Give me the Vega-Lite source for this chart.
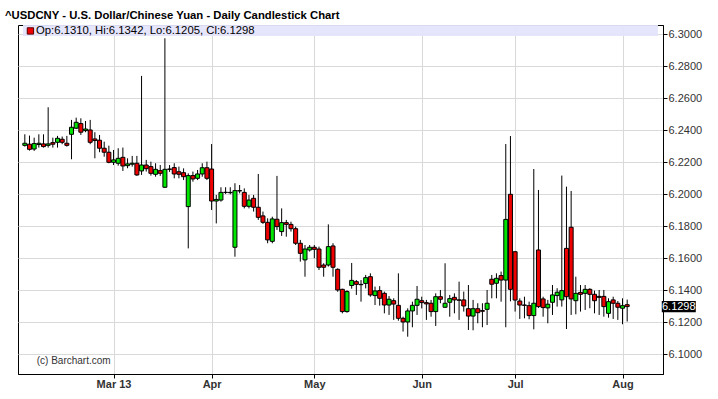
{
  "$schema": "https://vega.github.io/schema/vega-lite/v6.json",
  "width": 645,
  "height": 349,
  "autosize": {"type": "none"},
  "padding": {"left": 18, "top": 25, "right": 55, "bottom": 25},
  "background": "white",
  "title": {"text": "^USDCNY - U.S. Dollar/Chinese Yuan - Daily Candlestick Chart", "anchor": "start", "frame": "group", "dx": -13, "offset": -5, "baseline": "alphabetic", "font": "Liberation Sans", "fontSize": 11.3, "fontWeight": "bold", "color": "#000000"},
  "config": {"view": {"stroke": "#000000", "strokeWidth": 1}},
  "datasets": {
    "bars": [
      {"i":1,"d":"2013-02-04","o":6.2306,"h":6.2375,"l":6.2298,"c":6.2319},
      {"i":2,"d":"2013-02-05","o":6.2313,"h":6.2367,"l":6.2273,"c":6.2281},
      {"i":3,"d":"2013-02-06","o":6.2283,"h":6.2354,"l":6.2271,"c":6.2317},
      {"i":4,"d":"2013-02-07","o":6.2311,"h":6.2375,"l":6.2292,"c":6.2319},
      {"i":5,"d":"2013-02-08","o":6.2315,"h":6.2375,"l":6.2292,"c":6.2298},
      {"i":6,"d":"2013-02-11","o":6.2306,"h":6.2544,"l":6.2292,"c":6.2315},
      {"i":7,"d":"2013-02-12","o":6.2323,"h":6.2354,"l":6.2292,"c":6.2313},
      {"i":8,"d":"2013-02-13","o":6.2325,"h":6.2365,"l":6.2292,"c":6.2350},
      {"i":9,"d":"2013-02-14","o":6.2344,"h":6.2361,"l":6.2313,"c":6.2325},
      {"i":10,"d":"2013-02-15","o":6.2319,"h":6.2365,"l":6.2298,"c":6.2306},
      {"i":11,"d":"2013-02-18","o":6.2375,"h":6.2465,"l":6.2219,"c":6.2419},
      {"i":12,"d":"2013-02-19","o":6.2413,"h":6.2479,"l":6.2408,"c":6.2450},
      {"i":13,"d":"2013-02-20","o":6.2442,"h":6.2475,"l":6.2371,"c":6.2388},
      {"i":14,"d":"2013-02-21","o":6.2398,"h":6.2458,"l":6.2388,"c":6.2408},
      {"i":15,"d":"2013-02-22","o":6.2402,"h":6.2465,"l":6.2313,"c":6.2325},
      {"i":16,"d":"2013-02-25","o":6.2346,"h":6.2388,"l":6.2225,"c":6.2336},
      {"i":17,"d":"2013-02-26","o":6.2338,"h":6.2371,"l":6.2263,"c":6.2288},
      {"i":18,"d":"2013-02-27","o":6.2288,"h":6.2329,"l":6.2235,"c":6.2263},
      {"i":19,"d":"2013-02-28","o":6.2263,"h":6.2304,"l":6.2194,"c":6.2200},
      {"i":20,"d":"2013-03-01","o":6.2200,"h":6.2277,"l":6.2183,"c":6.2215},
      {"i":21,"d":"2013-03-04","o":6.2194,"h":6.2288,"l":6.2179,"c":6.2225},
      {"i":22,"d":"2013-03-05","o":6.2231,"h":6.2292,"l":6.2146,"c":6.2177},
      {"i":23,"d":"2013-03-06","o":6.2179,"h":6.2225,"l":6.2163,"c":6.2190},
      {"i":24,"d":"2013-03-07","o":6.2188,"h":6.2240,"l":6.2173,"c":6.2194},
      {"i":25,"d":"2013-03-08","o":6.2194,"h":6.2240,"l":6.2115,"c":6.2121},
      {"i":26,"d":"2013-03-11","o":6.2146,"h":6.2740,"l":6.2121,"c":6.2183},
      {"i":27,"d":"2013-03-12","o":6.2183,"h":6.2215,"l":6.2142,"c":6.2160},
      {"i":28,"d":"2013-03-13","o":6.2173,"h":6.2204,"l":6.2117,"c":6.2131},
      {"i":29,"d":"2013-03-14","o":6.2125,"h":6.2194,"l":6.2110,"c":6.2156},
      {"i":30,"d":"2013-03-15","o":6.2148,"h":6.2183,"l":6.2115,"c":6.2131},
      {"i":31,"d":"2013-03-18","o":6.2044,"h":6.2975,"l":6.2040,"c":6.2156},
      {"i":32,"d":"2013-03-19","o":6.2158,"h":6.2183,"l":6.2140,"c":6.2156},
      {"i":33,"d":"2013-03-20","o":6.2167,"h":6.2194,"l":6.2100,"c":6.2127},
      {"i":34,"d":"2013-03-21","o":6.2141,"h":6.2173,"l":6.2100,"c":6.2125},
      {"i":35,"d":"2013-03-22","o":6.2135,"h":6.2162,"l":6.2089,"c":6.2110},
      {"i":36,"d":"2013-03-25","o":6.1923,"h":6.2131,"l":6.1662,"c":6.2117},
      {"i":37,"d":"2013-03-26","o":6.2117,"h":6.2142,"l":6.2079,"c":6.2096},
      {"i":38,"d":"2013-03-27","o":6.2100,"h":6.2152,"l":6.2089,"c":6.2127},
      {"i":39,"d":"2013-03-28","o":6.2127,"h":6.2194,"l":6.2110,"c":6.2166},
      {"i":40,"d":"2013-03-29","o":6.2166,"h":6.2204,"l":6.2089,"c":6.2100},
      {"i":41,"d":"2013-04-01","o":6.2158,"h":6.2314,"l":6.1902,"c":6.1958},
      {"i":42,"d":"2013-04-02","o":6.1958,"h":6.1996,"l":6.1818,"c":6.1968},
      {"i":43,"d":"2013-04-03","o":6.1964,"h":6.2044,"l":6.1954,"c":6.2012},
      {"i":44,"d":"2013-04-04","o":6.2012,"h":6.2044,"l":6.2002,"c":6.2012},
      {"i":45,"d":"2013-04-05","o":6.2012,"h":6.2044,"l":6.2000,"c":6.2010},
      {"i":46,"d":"2013-04-08","o":6.1669,"h":6.2069,"l":6.1610,"c":6.2023},
      {"i":47,"d":"2013-04-09","o":6.2023,"h":6.2058,"l":6.2006,"c":6.2021},
      {"i":48,"d":"2013-04-10","o":6.2012,"h":6.2037,"l":6.1912,"c":6.1925},
      {"i":49,"d":"2013-04-11","o":6.1925,"h":6.1996,"l":6.1912,"c":6.1964},
      {"i":50,"d":"2013-04-12","o":6.1975,"h":6.1996,"l":6.1892,"c":6.1919},
      {"i":51,"d":"2013-04-15","o":6.1919,"h":6.2127,"l":6.1840,"c":6.1856},
      {"i":52,"d":"2013-04-16","o":6.1865,"h":6.1892,"l":6.1815,"c":6.1825},
      {"i":53,"d":"2013-04-17","o":6.1825,"h":6.1850,"l":6.1694,"c":6.1715},
      {"i":54,"d":"2013-04-18","o":6.1706,"h":6.1860,"l":6.1694,"c":6.1846},
      {"i":55,"d":"2013-04-19","o":6.1844,"h":6.2115,"l":6.1777,"c":6.1798},
      {"i":56,"d":"2013-04-22","o":6.1767,"h":6.1912,"l":6.1740,"c":6.1823},
      {"i":57,"d":"2013-04-23","o":6.1823,"h":6.1840,"l":6.1735,"c":6.1812},
      {"i":58,"d":"2013-04-24","o":6.1812,"h":6.1829,"l":6.1767,"c":6.1785},
      {"i":59,"d":"2013-04-25","o":6.1785,"h":6.1798,"l":6.1683,"c":6.1694},
      {"i":60,"d":"2013-04-26","o":6.1694,"h":6.1715,"l":6.1579,"c":6.1631},
      {"i":61,"d":"2013-04-29","o":6.1590,"h":6.1683,"l":6.1485,"c":6.1658},
      {"i":62,"d":"2013-04-30","o":6.1652,"h":6.1683,"l":6.1642,"c":6.1669},
      {"i":63,"d":"2013-05-01","o":6.1669,"h":6.1683,"l":6.1600,"c":6.1656},
      {"i":64,"d":"2013-05-02","o":6.1658,"h":6.1673,"l":6.1527,"c":6.1544},
      {"i":65,"d":"2013-05-03","o":6.1558,"h":6.1569,"l":6.1485,"c":6.1544},
      {"i":66,"d":"2013-05-06","o":6.1558,"h":6.1812,"l":6.1548,"c":6.1673},
      {"i":67,"d":"2013-05-07","o":6.1677,"h":6.1694,"l":6.1485,"c":6.1544},
      {"i":68,"d":"2013-05-08","o":6.1531,"h":6.1537,"l":6.1391,"c":6.1402},
      {"i":69,"d":"2013-05-09","o":6.1406,"h":6.1410,"l":6.1256,"c":6.1267},
      {"i":70,"d":"2013-05-10","o":6.1267,"h":6.1400,"l":6.1260,"c":6.1392},
      {"i":71,"d":"2013-05-13","o":6.1430,"h":6.1571,"l":6.1410,"c":6.1462},
      {"i":72,"d":"2013-05-14","o":6.1454,"h":6.1464,"l":6.1371,"c":6.1437},
      {"i":73,"d":"2013-05-15","o":6.1437,"h":6.1464,"l":6.1329,"c":6.1435},
      {"i":74,"d":"2013-05-16","o":6.1443,"h":6.1496,"l":6.1412,"c":6.1479},
      {"i":75,"d":"2013-05-17","o":6.1485,"h":6.1506,"l":6.1360,"c":6.1371},
      {"i":76,"d":"2013-05-20","o":6.1367,"h":6.1423,"l":6.1308,"c":6.1396},
      {"i":77,"d":"2013-05-21","o":6.1398,"h":6.1426,"l":6.1304,"c":6.1350},
      {"i":78,"d":"2013-05-22","o":6.1381,"h":6.1392,"l":6.1256,"c":6.1308},
      {"i":79,"d":"2013-05-23","o":6.1308,"h":6.1364,"l":6.1246,"c":6.1344},
      {"i":80,"d":"2013-05-24","o":6.1335,"h":6.1350,"l":6.1215,"c":6.1314},
      {"i":81,"d":"2013-05-27","o":6.1306,"h":6.1506,"l":6.1210,"c":6.1225},
      {"i":82,"d":"2013-05-28","o":6.1225,"h":6.1235,"l":6.1142,"c":6.1202},
      {"i":83,"d":"2013-05-29","o":6.1202,"h":6.1287,"l":6.1110,"c":6.1271},
      {"i":84,"d":"2013-05-30","o":6.1271,"h":6.1329,"l":6.1169,"c":6.1306},
      {"i":85,"d":"2013-05-31","o":6.1306,"h":6.1427,"l":6.1246,"c":6.1344},
      {"i":86,"d":"2013-06-03","o":6.1335,"h":6.1360,"l":6.1287,"c":6.1323},
      {"i":87,"d":"2013-06-04","o":6.1323,"h":6.1340,"l":6.1215,"c":6.1315},
      {"i":88,"d":"2013-06-05","o":6.1319,"h":6.1340,"l":6.1235,"c":6.1267},
      {"i":89,"d":"2013-06-06","o":6.1267,"h":6.1381,"l":6.1177,"c":6.1360},
      {"i":90,"d":"2013-06-07","o":6.1360,"h":6.1402,"l":6.1319,"c":6.1344},
      {"i":91,"d":"2013-06-10","o":6.1294,"h":6.1569,"l":6.1290,"c":6.1319},
      {"i":92,"d":"2013-06-11","o":6.1325,"h":6.1371,"l":6.1235,"c":6.1348},
      {"i":93,"d":"2013-06-12","o":6.1356,"h":6.1381,"l":6.1256,"c":6.1340},
      {"i":94,"d":"2013-06-13","o":6.1340,"h":6.1454,"l":6.1215,"c":6.1338},
      {"i":95,"d":"2013-06-14","o":6.1340,"h":6.1392,"l":6.1267,"c":6.1302},
      {"i":96,"d":"2013-06-17","o":6.1285,"h":6.1433,"l":6.1152,"c":6.1239},
      {"i":97,"d":"2013-06-18","o":6.1239,"h":6.1340,"l":6.1150,"c":6.1285},
      {"i":98,"d":"2013-06-19","o":6.1285,"h":6.1319,"l":6.1194,"c":6.1260},
      {"i":99,"d":"2013-06-20","o":6.1273,"h":6.1319,"l":6.1169,"c":6.1269},
      {"i":100,"d":"2013-06-21","o":6.1281,"h":6.1402,"l":6.1183,"c":6.1319},
      {"i":101,"d":"2013-06-24","o":6.1469,"h":6.1496,"l":6.1350,"c":6.1438},
      {"i":102,"d":"2013-06-25","o":6.1444,"h":6.1506,"l":6.1350,"c":6.1475},
      {"i":103,"d":"2013-06-26","o":6.1492,"h":6.1517,"l":6.1329,"c":6.1464},
      {"i":104,"d":"2013-06-27","o":6.1464,"h":6.2314,"l":6.1169,"c":6.1843},
      {"i":105,"d":"2013-06-28","o":6.2000,"h":6.2364,"l":6.1331,"c":6.1406},
      {"i":106,"d":"2013-07-01","o":6.1641,"h":6.1646,"l":6.1267,"c":6.1339},
      {"i":107,"d":"2013-07-02","o":6.1333,"h":6.1350,"l":6.1221,"c":6.1308},
      {"i":108,"d":"2013-07-03","o":6.1308,"h":6.1360,"l":6.1225,"c":6.1306},
      {"i":109,"d":"2013-07-04","o":6.1304,"h":6.1329,"l":6.1219,"c":6.1242},
      {"i":110,"d":"2013-07-05","o":6.1242,"h":6.2158,"l":6.1156,"c":6.1319},
      {"i":111,"d":"2013-07-08","o":6.1652,"h":6.2027,"l":6.1290,"c":6.1298},
      {"i":112,"d":"2013-07-09","o":6.1346,"h":6.1360,"l":6.1235,"c":6.1292},
      {"i":113,"d":"2013-07-10","o":6.1290,"h":6.1340,"l":6.1194,"c":6.1313},
      {"i":114,"d":"2013-07-11","o":6.1325,"h":6.1433,"l":6.1246,"c":6.1371},
      {"i":115,"d":"2013-07-12","o":6.1367,"h":6.1413,"l":6.1298,"c":6.1388},
      {"i":116,"d":"2013-07-15","o":6.1340,"h":6.2117,"l":6.1298,"c":6.1398},
      {"i":117,"d":"2013-07-16","o":6.1662,"h":6.2048,"l":6.1158,"c":6.1360},
      {"i":118,"d":"2013-07-17","o":6.1794,"h":6.2021,"l":6.1246,"c":6.1346},
      {"i":119,"d":"2013-07-18","o":6.1335,"h":6.1485,"l":6.1250,"c":6.1381},
      {"i":120,"d":"2013-07-19","o":6.1387,"h":6.1433,"l":6.1267,"c":6.1375},
      {"i":121,"d":"2013-07-22","o":6.1381,"h":6.1433,"l":6.1277,"c":6.1406},
      {"i":122,"d":"2013-07-23","o":6.1406,"h":6.1413,"l":6.1288,"c":6.1375},
      {"i":123,"d":"2013-07-24","o":6.1375,"h":6.1398,"l":6.1256,"c":6.1335},
      {"i":124,"d":"2013-07-25","o":6.1362,"h":6.1402,"l":6.1246,"c":6.1356},
      {"i":125,"d":"2013-07-26","o":6.1362,"h":6.1402,"l":6.1235,"c":6.1298},
      {"i":126,"d":"2013-07-29","o":6.1256,"h":6.1350,"l":6.1229,"c":6.1329},
      {"i":127,"d":"2013-07-30","o":6.1340,"h":6.1360,"l":6.1221,"c":6.1319},
      {"i":128,"d":"2013-07-31","o":6.1319,"h":6.1333,"l":6.1215,"c":6.1294},
      {"i":129,"d":"2013-08-01","o":6.1288,"h":6.1350,"l":6.1188,"c":6.1304},
      {"i":130,"d":"2013-08-02","o":6.1310,"h":6.1342,"l":6.1205,"c":6.1298}
    ],
    "notes": [
      {"quote": "Op:6.1310, Hi:6.1342, Lo:6.1205, Cl:6.1298", "source": "(c) Barchart.com"}
    ]
  },
  "data": {"name": "bars"},
  "layer": [
    {
      "mark": {"type": "rule", "color": "#000000", "strokeWidth": 1},
      "encoding": {
        "x": {"field": "i", "type": "quantitative", "title": null,
          "scale": {"domain": [0.61, 136.6], "nice": false, "zero": false},
          "axis": {"orient": "bottom", "values": [20, 41, 63, 86, 106, 129], "tickCount": 30,
            "labelExpr": "datum.value == 20 ? 'Mar 13' : datum.value == 41 ? 'Apr' : datum.value == 63 ? 'May' : datum.value == 86 ? 'Jun' : datum.value == 106 ? 'Jul' : 'Aug'",
            "grid": true, "gridColor": "#d9d9d9", "gridWidth": 1,
            "domainColor": "#000000", "tickColor": "#000000", "tickSize": 4,
            "labelFont": "Liberation Sans", "labelFontSize": 11, "labelFontWeight": "bold", "labelColor": "#333333",
            "labelPadding": 0, "labelFlush": false, "labelOverlap": false, "title": null}},
        "y": {"field": "l", "type": "quantitative", "title": null,
          "scale": {"domain": [6.08769, 6.30581], "nice": false, "zero": false},
          "axis": {"orient": "right", "values": [6.10, 6.12, 6.14, 6.16, 6.18, 6.20, 6.22, 6.24, 6.26, 6.28, 6.30], "tickCount": 30,
            "format": ".4f", "grid": true, "gridColor": "#d9d9d9", "gridWidth": 1,
            "domainColor": "#000000", "tickColor": "#000000", "tickSize": 4,
            "labelFont": "Liberation Sans", "labelFontSize": 11, "labelColor": "#333333",
            "labelPadding": 1, "labelFlush": false, "labelOverlap": false, "title": null}},
        "y2": {"field": "h"}
      }
    },
    {
      "mark": {"type": "bar", "width": 4, "stroke": "#000000", "strokeWidth": 1},
      "encoding": {
        "x": {"field": "i", "type": "quantitative", "title": null},
        "y": {"field": "o", "type": "quantitative", "title": null},
        "y2": {"field": "c"},
        "fill": {"condition": {"test": "datum.c >= datum.o", "value": "#00e600"}, "value": "#ee0000"}
      }
    },
    {
      "data": {"name": "notes"},
      "mark": {"type": "rect", "fill": "#e4e4fb", "opacity": 0.95},
      "encoding": {
        "x": {"datum": 0.61, "type": "quantitative"},
        "x2": {"datum": 136.6},
        "y": {"datum": 6.30581, "type": "quantitative"},
        "y2": {"datum": 6.2989}
      }
    },
    {
      "data": {"name": "notes"},
      "mark": {"type": "point", "shape": "square", "filled": true, "size": 40, "fill": "#ee0000", "stroke": "#550000", "strokeWidth": 1, "opacity": 1},
      "encoding": {
        "x": {"datum": 2.2, "type": "quantitative"},
        "y": {"datum": 6.3021, "type": "quantitative"}
      }
    },
    {
      "data": {"name": "notes"},
      "mark": {"type": "text", "align": "left", "baseline": "middle", "font": "Liberation Sans", "fontSize": 11.3, "color": "#000000"},
      "encoding": {
        "x": {"datum": 3.4, "type": "quantitative"},
        "y": {"datum": 6.3021, "type": "quantitative"},
        "text": {"field": "quote"}
      }
    },
    {
      "data": {"name": "notes"},
      "mark": {"type": "text", "align": "left", "baseline": "middle", "font": "Liberation Sans", "fontSize": 10, "color": "#333333"},
      "encoding": {
        "x": {"datum": 3.55, "type": "quantitative"},
        "y": {"datum": 6.0958, "type": "quantitative"},
        "text": {"field": "source"}
      }
    },
    {
      "transform": [{"filter": "datum.i == 130"}],
      "mark": {"type": "point", "shape": "M-1,-0.33L1,-0.33L1,0.33L-1,0.33Z", "size": 1156, "filled": true, "fill": "#000000", "strokeWidth": 0, "opacity": 1, "xOffset": 51.6, "clip": false},
      "encoding": {
        "x": {"field": "i", "type": "quantitative"},
        "y": {"field": "c", "type": "quantitative"}
      }
    },
    {
      "transform": [{"filter": "datum.i == 130"}],
      "mark": {"type": "text", "align": "center", "baseline": "middle", "font": "Liberation Sans", "fontSize": 11, "color": "#ffffff", "xOffset": 51.6, "clip": false},
      "encoding": {
        "x": {"field": "i", "type": "quantitative"},
        "y": {"field": "c", "type": "quantitative"},
        "text": {"field": "c", "type": "quantitative", "format": ".4f"}
      }
    }
  ]
}
